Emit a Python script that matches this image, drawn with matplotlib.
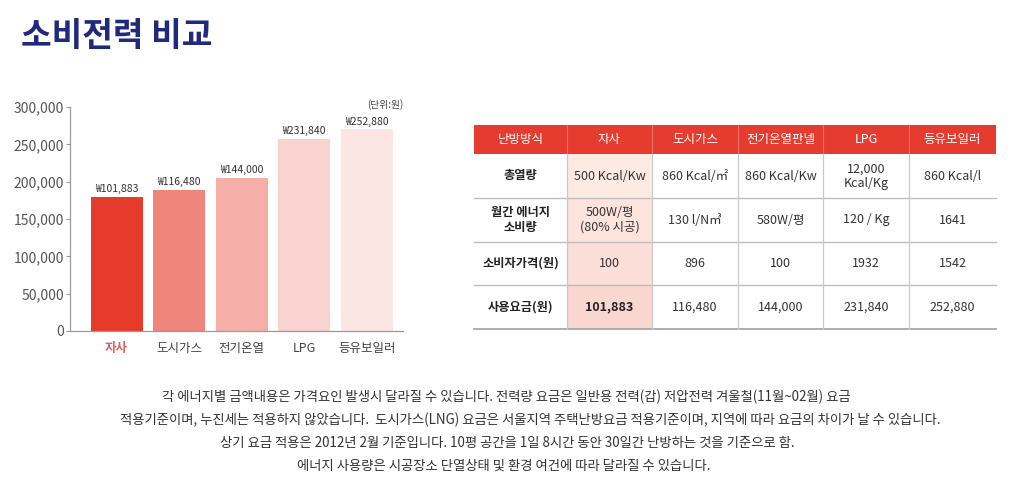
import matplotlib
matplotlib.use("Agg")
import matplotlib.pyplot as plt
from matplotlib.patches import Rectangle
from matplotlib.ticker import FuncFormatter

plt.rcParams['font.family'] = ['Noto Sans CJK KR', 'DejaVu Sans']

# ---- data ----
categories = ["자사", "도시가스", "전기온열", "LPG", "등유보일러"]
bar_heights = [180000, 189000, 205000, 257000, 270000]   # drawn heights as in picture
price_labels = [101883, 116480, 144000, 231840, 252880]   # printed values
bar_colors = ["#E63B2C", "#EF867C", "#F5AFA8", "#F9D3CF", "#FCE6E3"]
yticks = [0, 50000, 100000, 150000, 200000, 250000, 300000]

table_header = ["난방방식", "자사", "도시가스", "전기온열판넬", "LPG", "등유보일러"]
row_labels = ["총열량", "월간 에너지\n소비량", "소비자가격(원)", "사용요금(원)"]
row_jasa = ["500 Kcal/Kw", "500W/평\n(80% 시공)", "100", "101,883"]
row_gas = ["860 Kcal/㎡", "130 l/N㎥", "896", "116,480"]
row_elec = ["860 Kcal/Kw", "580W/평", "100", "144,000"]
row_lpg = ["12,000\nKcal/Kg", "120 / Kg", "1932", "231,840"]
row_oil = ["860 Kcal/l", "1641", "1542", "252,880"]

notes = [
    "각 에너지별 금액내용은 가격요인 발생시 달라질 수 있습니다. 전력량 요금은 일반용 전력(갑) 저압전력 겨울철(11월~02월) 요금",
    "적용기준이며, 누진세는 적용하지 않았습니다.  도시가스(LNG) 요금은 서울지역 주택난방요금 적용기준이며, 지역에 따라 요금의 차이가 날 수 있습니다.",
    "상기 요금 적용은 2012년 2월 기준입니다. 10평 공간을 1일 8시간 동안 30일간 난방하는 것을 기준으로 함.",
    "에너지 사용량은 시공장소 단열상태 및 환경 여건에 따라 달라질 수 있습니다.",
]

W, H = 1024, 503
fig = plt.figure(figsize=(W / 100, H / 100), dpi=100)
fig.patch.set_facecolor("white")

# ---- overlay axes in pixel coords for title, table, notes ----
ov = fig.add_axes([0, 0, 1, 1])
ov.set_xlim(0, W)
ov.set_ylim(H, 0)
ov.axis("off")

ov.text(21, 36, "소비전력 비교", fontsize=24, fontweight="bold", color="#1F2A7C",
        ha="left", va="center")

# ---- bar chart ----
ax = fig.add_axes([70 / W, (H - 331) / H, 333 / W, 224 / H])
x = list(range(len(categories)))
ax.bar(x, bar_heights, width=0.83, color=bar_colors, zorder=2)
ax.set_xlim(-0.745, 4.58)
ax.set_ylim(0, 300000)
ax.set_yticks(yticks)
ax.yaxis.set_major_formatter(FuncFormatter(lambda v, p: f"{int(v):,}"))
ax.set_xticks(x)
ax.set_xticklabels(categories)
for sp in ["top", "right"]:
    ax.spines[sp].set_visible(False)
for sp in ["left", "bottom"]:
    ax.spines[sp].set_color("#9A9A9A")
    ax.spines[sp].set_linewidth(0.9)
ax.tick_params(axis="y", length=3, color="#9A9A9A", labelsize=10, labelcolor="#555555", pad=1.5)
ax.tick_params(axis="x", length=0, labelsize=9, labelcolor="#444444", pad=8)
lbls = ax.get_xticklabels()
lbls[0].set_color("#E0605A")
lbls[0].set_fontweight("bold")
for xi, h, v in zip(x, bar_heights, price_labels):
    ax.text(xi, h + 3500, f"₩{v:,}", ha="center", va="bottom", fontsize=7.5, color="#333333")
ax.text(1.0, 1.013, "(단위:원)", transform=ax.transAxes, ha="right", va="center",
        fontsize=7, color="#444444")

# ---- table ----
col_edges = [474, 567, 652, 738, 823, 909, 996]
row_edges = [125, 154, 198, 242, 285, 329]
columns = [row_labels, row_jasa, row_gas, row_elec, row_lpg, row_oil]
jasa_bg = ["#FDEBE3", "#FCE4DC", "#FBDED7", "#F9D6D0"]

# header
ov.add_patch(Rectangle((col_edges[0], row_edges[0]), col_edges[-1] - col_edges[0],
                       row_edges[1] - row_edges[0], facecolor="#E63C2F", edgecolor="none"))
for j, name in enumerate(table_header):
    cx = (col_edges[j] + col_edges[j + 1]) / 2
    ov.text(cx, (row_edges[0] + row_edges[1]) / 2, name, ha="center", va="center",
            fontsize=9, color="white")
for xe in col_edges[1:-1]:
    ov.plot([xe, xe], [row_edges[0], row_edges[1]], color="#EE7066", lw=0.8)

# 자사 column background
for i in range(4):
    ov.add_patch(Rectangle((col_edges[1], row_edges[i + 1]), col_edges[2] - col_edges[1],
                           row_edges[i + 2] - row_edges[i + 1], facecolor=jasa_bg[i],
                           edgecolor="none"))

# body text
for j, col in enumerate(columns):
    cx = (col_edges[j] + col_edges[j + 1]) / 2
    for i, val in enumerate(col):
        cy = (row_edges[i + 1] + row_edges[i + 2]) / 2
        bold = (j == 0) or (j == 1 and i == 3)
        ov.text(cx, cy, val, ha="center", va="center", fontsize=9 if j else 8.8,
                color="#222222" if bold else "#333333",
                fontweight="bold" if bold else "normal", linespacing=1.15)

# grid lines
for ye in row_edges[2:-1]:
    ov.plot([col_edges[0], col_edges[-1]], [ye, ye], color="#BDBDBD", lw=1.0)
ov.plot([col_edges[0], col_edges[-1]], [row_edges[-1], row_edges[-1]], color="#A8A8A8", lw=1.3)
for xe in col_edges[1:-1]:
    ov.plot([xe, xe], [row_edges[1], row_edges[-1]], color="#C8C8C8", lw=0.9)

# ---- notes ----
note_cx = [506, 530, 507, 504]
note_y = [397, 420, 443, 466]
for t, cx, cy in zip(notes, note_cx, note_y):
    ov.text(cx, cy, t, ha="center", va="center", fontsize=9.6, color="#333333")

fig.savefig("out.png", dpi=100, facecolor="white")
